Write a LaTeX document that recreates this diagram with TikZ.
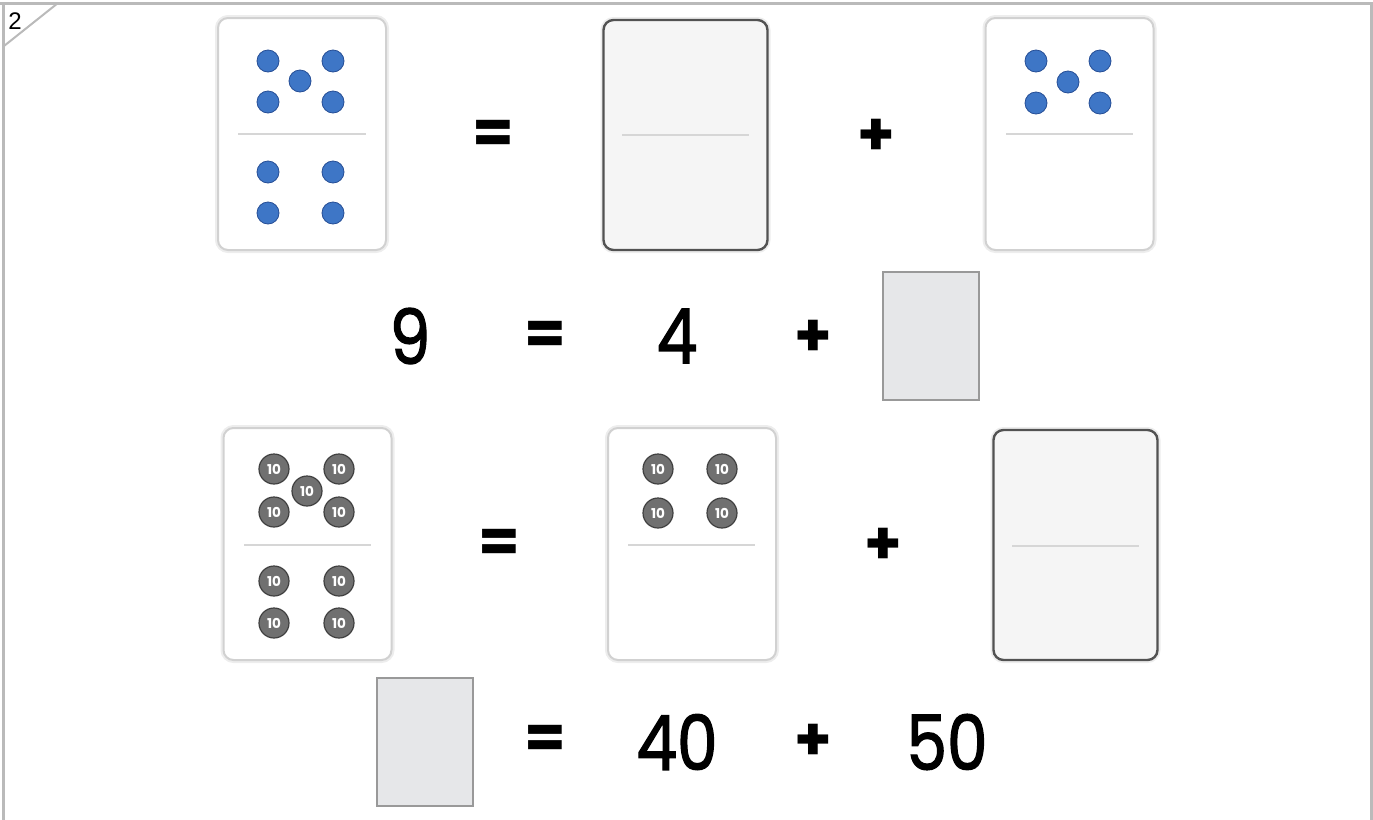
\documentclass[tikz,border=0pt]{standalone}
\usepackage{fontspec}
\setmainfont{Poppins}
\newfontfamily\numfont[FakeBold=1.6, FakeStretch=0.85]{Poppins}
\newfontfamily\labelfont{Liberation Sans}
\definecolor{pipblue}{RGB}{62,118,198}
\definecolor{pipedge}{RGB}{38,78,150}
\definecolor{coingray}{RGB}{112,112,112}
\definecolor{coinedge}{RGB}{64,64,64}
\definecolor{boxgray}{RGB}{230,231,233}
\definecolor{framegray}{RGB}{186,186,186}
\begin{document}
\begin{tikzpicture}[x=0.5pt,y=-0.5pt,
  domino/.style={rectangle, rounded corners=5pt, minimum width=84pt, minimum height=116pt, draw=black!18, line width=1pt, fill=white, preaction={draw=black!7, line width=3pt}},
  blankdomino/.style={domino, minimum width=82pt, minimum height=115pt, draw=black!68, line width=1.2pt, fill=black!4},
  pip/.style={circle, inner sep=0pt, minimum size=11pt, fill=pipblue, draw=pipedge, line width=0.4pt},
  coin/.style={circle, inner sep=0pt, minimum size=15pt, fill=coingray, draw=coinedge, line width=0.6pt, text=white, font=\bfseries\fontsize{6.8}{7}\selectfont},
  divider/.style={draw=black!16, line width=1pt},
  answer/.style={rectangle, minimum width=48pt, minimum height=64pt, fill=boxgray, draw=black!40, line width=1pt},
  num/.style={font=\numfont\fontsize{38}{40}\selectfont},
  op/.style={font=\bfseries\fontsize{30}{32}\selectfont}]
\useasboundingbox (0,0) rectangle (1373,820);
\draw[framegray, line width=1.5pt] (0,3) -- (1373,3);
\draw[framegray, line width=1.5pt] (3,3) -- (3,820);
\draw[framegray, line width=1.5pt] (1371,3) -- (1371,820);
\draw[framegray, line width=1pt] (4,46) -- (58,3);
\node[font=\labelfont\fontsize{12}{12}\selectfont] (page) at (15,21){2};

\node[domino] (dom0) at (302,134){};
\draw[divider] (238,134) -- (366,134);
\foreach \px/\py [count=\i] in {268/61,333/61,300/81,268/102,333/102,268/172,333/172,268/213,333/213}
  \node[pip] (pipa\i) at (\px,\py){};
\node[op] (eq0) at (493,137){=};
\node[blankdomino] (dom1) at (685.5,135){};
\draw[divider] (622,135) -- (749,135);
\node[op] (plus0) at (876,137){+};
\node[domino] (dom2) at (1069.5,134){};
\draw[divider] (1006,134) -- (1133,134);
\foreach \px/\py [count=\i] in {1036/61,1100/61,1068/82,1036/103,1100/103}
  \node[pip] (pipc\i) at (\px,\py){};

\node[num] (nine) at (410,336){9};
\node[op] (eq1) at (545,338){=};
\node[num] (four) at (677,336){4};
\node[op] (plus1) at (813,338){+};
\node[answer] (ans0) at (931,336){};

\node[domino] (dom3) at (307.5,544){};
\draw[divider] (244,545) -- (371,545);
\foreach \px/\py [count=\i] in {274/469,339/469,307/491,274/512,339/512,274/581,339/581,274/623,339/623}
  \node[coin] (coind\i) at (\px,\py){10};
\node[op] (eq2) at (499,546){=};
\node[domino] (dom4) at (692,544){};
\draw[divider] (628,545) -- (755,545);
\foreach \px/\py [count=\i] in {658/469,722/469,658/513,722/513}
  \node[coin] (coine\i) at (\px,\py){10};
\node[op] (plus2) at (883,546){+};
\node[blankdomino] (dom5) at (1075.5,545){};
\draw[divider] (1012,546) -- (1139,546);

\node[answer] (ans1) at (425,741.5){};
\node[op] (eq3) at (545,742){=};
\node[num] (forty) at (677,742){40};
\node[op] (plus3) at (813,742){+};
\node[num] (fifty) at (947,742){50};

\end{tikzpicture}
\end{document}
